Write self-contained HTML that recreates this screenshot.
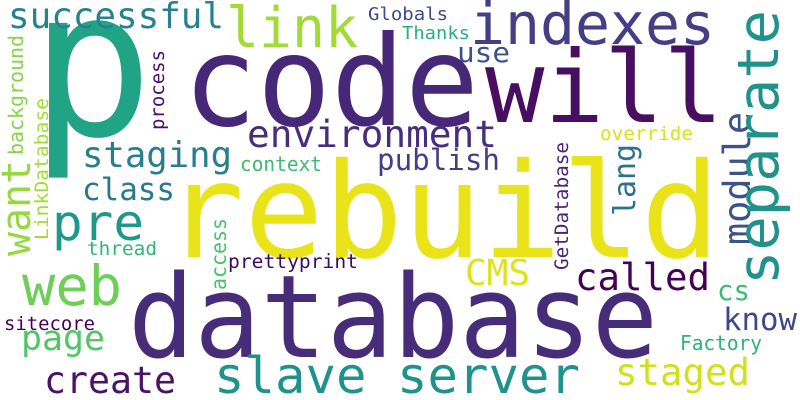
<!DOCTYPE html>
<html><head><meta charset="utf-8"><style>
html,body{margin:0;padding:0;background:#fff;}
svg{display:block;}
text{font-family:"DejaVu Sans Mono","Liberation Mono",monospace;}
</style></head><body>
<svg width="800" height="400" viewBox="0 0 800 400" xmlns="http://www.w3.org/2000/svg">
<rect width="800" height="400" fill="#ffffff"/>
<text x="30" y="135" font-size="205" fill="#21a386">p</text>
<text x="183" y="125" font-size="125" fill="#472878" textLength="296" lengthAdjust="spacingAndGlyphs">code</text>
<text x="485" y="122" font-size="100" fill="#470e61" textLength="238" lengthAdjust="spacingAndGlyphs">will</text>
<text x="470" y="44" font-size="58" fill="#433e85" textLength="245" lengthAdjust="spacingAndGlyphs">indexes</text>
<text x="226" y="47" font-size="56" fill="#a2da37" textLength="132" lengthAdjust="spacingAndGlyphs">link</text>
<text x="8" y="28" font-size="36" fill="#26828e" textLength="216" lengthAdjust="spacingAndGlyphs">successful</text>
<text x="368" y="20" font-size="18" fill="#3e4a89" textLength="80" lengthAdjust="spacingAndGlyphs">Globals</text>
<text x="402" y="39" font-size="18" fill="#29af7f" textLength="68" lengthAdjust="spacingAndGlyphs">Thanks</text>
<text x="457" y="62" font-size="28" fill="#3b528b" textLength="53" lengthAdjust="spacingAndGlyphs">use</text>
<text x="247" y="147" font-size="37" fill="#472d7b" textLength="250" lengthAdjust="spacingAndGlyphs">environment</text>
<text x="82" y="167" font-size="36" fill="#277f8e" textLength="150" lengthAdjust="spacingAndGlyphs">staging</text>
<text x="240" y="171" font-size="20" fill="#3dbc74" textLength="82" lengthAdjust="spacingAndGlyphs">context</text>
<text x="377" y="170" font-size="29" fill="#433e85" textLength="123" lengthAdjust="spacingAndGlyphs">publish</text>
<text x="82" y="200" font-size="31" fill="#2a788e" textLength="93" lengthAdjust="spacingAndGlyphs">class</text>
<text x="165" y="257" font-size="132" fill="#e8e419" textLength="555" lengthAdjust="spacingAndGlyphs">rebuild</text>
<text x="52" y="240" font-size="50" fill="#1f988b" textLength="92" lengthAdjust="spacingAndGlyphs">pre</text>
<text transform="translate(30,256) rotate(-90)" font-size="40" fill="#95d840" textLength="96" lengthAdjust="spacingAndGlyphs">want</text>
<text transform="translate(23,155) rotate(-90)" font-size="20" fill="#86d549" textLength="120" lengthAdjust="spacingAndGlyphs">background</text>
<text transform="translate(48,240) rotate(-90)" font-size="19" fill="#a5db36" textLength="142" lengthAdjust="spacingAndGlyphs">LinkDatabase</text>
<text transform="translate(164,130) rotate(-90)" font-size="19" fill="#4b0c6b" textLength="80" lengthAdjust="spacingAndGlyphs">process</text>
<text x="87" y="255" font-size="19" fill="#2fb47c" textLength="70" lengthAdjust="spacingAndGlyphs">thread</text>
<text transform="translate(226,290) rotate(-90)" font-size="21" fill="#4ac16d" textLength="72" lengthAdjust="spacingAndGlyphs">access</text>
<text x="228" y="268" font-size="19.5" fill="#3f0b5e" textLength="130" lengthAdjust="spacingAndGlyphs">prettyprint</text>
<text x="22" y="305" font-size="55" fill="#6ece58" textLength="100" lengthAdjust="spacingAndGlyphs">web</text>
<text x="128" y="357" font-size="115" fill="#472c7a" textLength="530" lengthAdjust="spacingAndGlyphs">database</text>
<text x="4" y="330" font-size="19" fill="#440154" textLength="91" lengthAdjust="spacingAndGlyphs">sitecore</text>
<text x="21" y="350" font-size="35" fill="#52c569" textLength="84" lengthAdjust="spacingAndGlyphs">page</text>
<text x="44" y="393" font-size="37" fill="#481467" textLength="132" lengthAdjust="spacingAndGlyphs">create</text>
<text x="214" y="393" font-size="50" fill="#20928c" textLength="366" lengthAdjust="spacingAndGlyphs">slave server</text>
<text x="465" y="285" font-size="36" fill="#dde318" textLength="65" lengthAdjust="spacingAndGlyphs">CMS</text>
<text x="575" y="290" font-size="37" fill="#440154" textLength="135" lengthAdjust="spacingAndGlyphs">called</text>
<text transform="translate(568,270) rotate(-90)" font-size="19" fill="#482475" textLength="128" lengthAdjust="spacingAndGlyphs">GetDatabase</text>
<text transform="translate(635,216) rotate(-90)" font-size="30" fill="#2c718e" textLength="72" lengthAdjust="spacingAndGlyphs">lang</text>
<text x="600" y="140" font-size="19" fill="#d8e219" textLength="93" lengthAdjust="spacingAndGlyphs">override</text>
<text transform="translate(750,245) rotate(-90)" font-size="37" fill="#3b528b" textLength="133" lengthAdjust="spacingAndGlyphs">module</text>
<text transform="translate(778,285) rotate(-90)" font-size="57" fill="#21918c" textLength="275" lengthAdjust="spacingAndGlyphs">separate</text>
<text x="717" y="300" font-size="28" fill="#3dbc74" textLength="33" lengthAdjust="spacingAndGlyphs">cs</text>
<text x="723" y="330" font-size="31" fill="#3e4989" textLength="74" lengthAdjust="spacingAndGlyphs">know</text>
<text x="680" y="350" font-size="20" fill="#2db27d" textLength="82" lengthAdjust="spacingAndGlyphs">Factory</text>
<text x="615" y="385" font-size="37" fill="#d0e11c" textLength="135" lengthAdjust="spacingAndGlyphs">staged</text>
</svg>
</body></html>
